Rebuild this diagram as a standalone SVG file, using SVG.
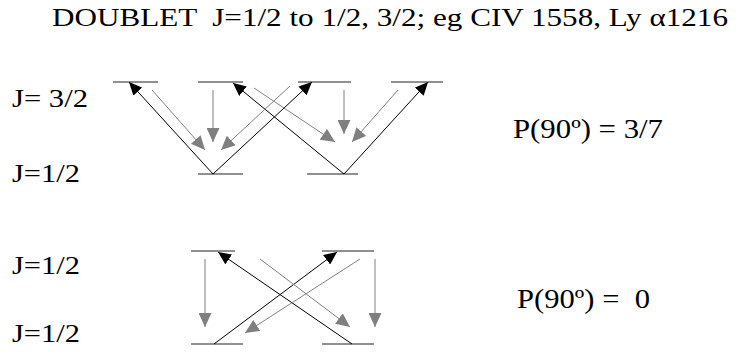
<svg xmlns="http://www.w3.org/2000/svg" width="736" height="352" viewBox="0 0 736 352">
<style>
text{font-family:"Liberation Serif","Times New Roman",serif;fill:#000;white-space:pre}
.t{font-size:25px}
.l{font-size:26px}
.p{font-size:27px}
.lvl{stroke:#222;stroke-width:1.2;fill:none}
.b{stroke:#000;stroke-width:1;fill:none;marker-end:url(#ab)}
.g{stroke:#808080;stroke-width:1;fill:none;marker-end:url(#ag)}
</style>
<defs>
<marker id="ab" markerUnits="userSpaceOnUse" markerWidth="14" markerHeight="12" refX="13" refY="6" orient="auto"><path d="M0,0 L13,6 L0,12 z" fill="#000"/></marker>
<marker id="ag" markerUnits="userSpaceOnUse" markerWidth="15" markerHeight="13" refX="14" refY="6.5" orient="auto"><path d="M0,0 L14,6.5 L0,13 z" fill="#808080"/></marker>
</defs>
<rect width="736" height="352" fill="#fff"/>
<g id="title"><text class="t" x="52" y="26" textLength="676" lengthAdjust="spacingAndGlyphs" xml:space="preserve">DOUBLET  J=1/2 to 1/2, 3/2; eg CIV 1558, Ly α1216</text></g>
<g id="labels">
<text class="l" x="12" y="107" textLength="76" lengthAdjust="spacingAndGlyphs">J= 3/2</text>
<text class="l" x="12" y="182" textLength="68" lengthAdjust="spacingAndGlyphs">J=1/2</text>
<text class="l" x="12" y="274" textLength="68" lengthAdjust="spacingAndGlyphs">J=1/2</text>
<text class="l" x="12" y="342" textLength="68" lengthAdjust="spacingAndGlyphs">J=1/2</text>
<text class="p" x="513" y="138" textLength="150" lengthAdjust="spacingAndGlyphs">P(90º) = 3/7</text>
<text class="p" x="517" y="308" textLength="133" lengthAdjust="spacingAndGlyphs" xml:space="preserve">P(90º) =  0</text>
</g>
<g id="levels-top">
<line class="lvl" x1="113" y1="82" x2="158" y2="82"/>
<line class="lvl" x1="198" y1="82" x2="243" y2="82"/>
<line class="lvl" x1="298" y1="82" x2="351" y2="82"/>
<line class="lvl" x1="391" y1="82" x2="443" y2="82"/>
<line class="lvl" x1="198" y1="174" x2="243" y2="174"/>
<line class="lvl" x1="307" y1="174" x2="358" y2="174"/>
</g>
<g id="levels-bottom">
<line class="lvl" x1="191" y1="251" x2="235" y2="251"/>
<line class="lvl" x1="322" y1="251" x2="374" y2="251"/>
<line class="lvl" x1="191" y1="344" x2="243" y2="344"/>
<line class="lvl" x1="322" y1="344" x2="374" y2="344"/>
</g>
<g id="connectors">
<line class="b" x1="213" y1="174" x2="129" y2="82"/>
<line class="b" x1="213" y1="174" x2="312" y2="82"/>
<line class="b" x1="344" y1="174" x2="233" y2="83"/>
<line class="b" x1="344" y1="174" x2="428" y2="82"/>
<line class="g" x1="152" y1="90" x2="205" y2="150"/>
<line class="g" x1="213" y1="90" x2="213" y2="142"/>
<line class="g" x1="290" y1="86" x2="221" y2="150"/>
<line class="g" x1="254" y1="88" x2="335" y2="142"/>
<line class="g" x1="344" y1="90" x2="344" y2="134"/>
<line class="g" x1="398" y1="90" x2="352" y2="142"/>
<line class="b" x1="352" y1="344" x2="218" y2="252"/>
<line class="b" x1="214" y1="344" x2="337" y2="252"/>
<line class="g" x1="205" y1="259" x2="205" y2="327"/>
<line class="g" x1="260" y1="259" x2="350" y2="327"/>
<line class="g" x1="360" y1="259" x2="245" y2="333"/>
<line class="g" x1="375" y1="259" x2="375" y2="327"/>
</g>
</svg>
